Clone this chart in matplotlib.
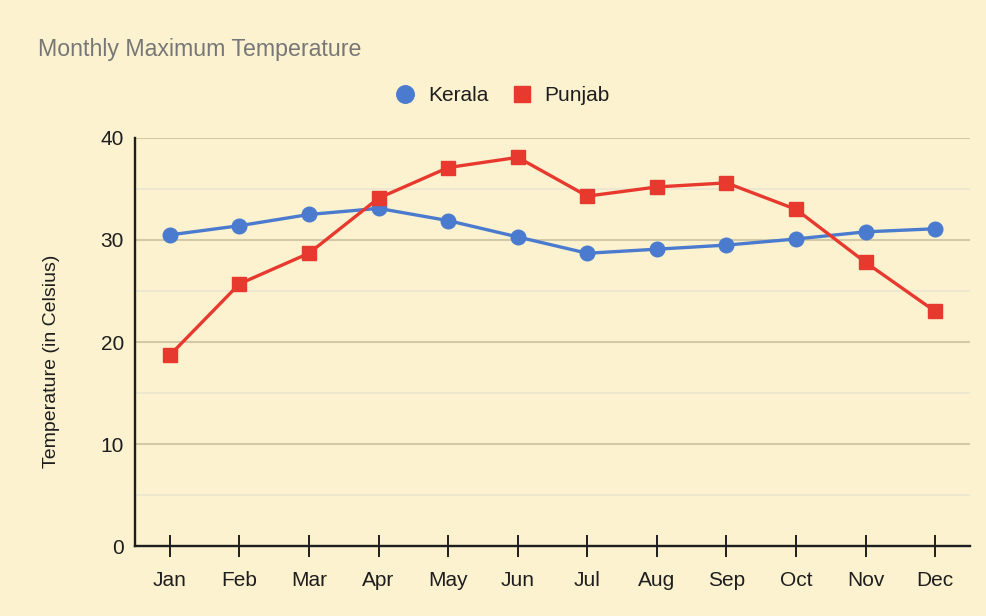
import matplotlib
matplotlib.use('Agg')
import matplotlib.pyplot as plt
from matplotlib.ticker import MultipleLocator

plt.rcParams['font.family'] = ['Liberation Sans', 'DejaVu Sans']

months = ['Jan', 'Feb', 'Mar', 'Apr', 'May', 'Jun', 'Jul', 'Aug', 'Sep', 'Oct', 'Nov', 'Dec']
kerala = [30.5, 31.4, 32.5, 33.1, 31.9, 30.3, 28.7, 29.1, 29.5, 30.1, 30.8, 31.1]
punjab = [18.7, 25.7, 28.7, 34.1, 37.1, 38.1, 34.3, 35.2, 35.6, 33.0, 27.8, 23.0]

bg = '#FCF2CF'
blue = '#4A7BCF'
red = '#E8392F'
ink = '#1E1E1E'

fig = plt.figure(figsize=(9.87, 6.16), dpi=100, facecolor=bg)
ax = fig.add_axes([0.1368, 0.1136, 0.846, 0.6624], facecolor=bg)

x = list(range(len(months)))
ax.plot(x, kerala, color=blue, lw=2.4, marker='o', ms=10.5, label='Kerala', zorder=3)
ax.plot(x, punjab, color=red, lw=2.4, marker='s', ms=10, label='Punjab', zorder=3)

ax.set_xlim(-0.5, 11.5)
ax.set_ylim(0, 40)
ax.set_xticks(x)
ax.set_xticklabels(months, fontsize=15, color=ink)
ax.yaxis.set_major_locator(MultipleLocator(10))
ax.yaxis.set_minor_locator(MultipleLocator(5))
ax.tick_params(axis='x', direction='inout', length=15.5, width=1.4, color=ink, pad=10)
ax.tick_params(axis='y', which='both', length=0, labelsize=15, labelcolor=ink, pad=8)

ax.grid(axis='y', which='major', color='#D2C9A8', lw=1.5, zorder=1)
ax.grid(axis='y', which='minor', color='#EDE6CF', lw=1.3, zorder=1)

for s in ['top', 'right']:
    ax.spines[s].set_visible(False)
for s in ['left', 'bottom']:
    ax.spines[s].set_color(ink)
    ax.spines[s].set_linewidth(1.7)

ax.set_ylabel('Temperature (in Celsius)', fontsize=14, color=ink, labelpad=29, y=0.453)

fig.text(0.038, 0.919, 'Monthly Maximum Temperature', fontsize=16.7, color='#777777', va='center')

leg = fig.legend(loc='center', bbox_to_anchor=(0.509, 0.845), ncol=2, frameon=False,
                 fontsize=15, handlelength=1.0, columnspacing=1.1, handletextpad=0.6,
                 markerscale=1.2)
for h in leg.legend_handles:
    h.set_linestyle('None')
for t in leg.get_texts():
    t.set_color(ink)

fig.savefig('out.png', dpi=100, facecolor=bg)
